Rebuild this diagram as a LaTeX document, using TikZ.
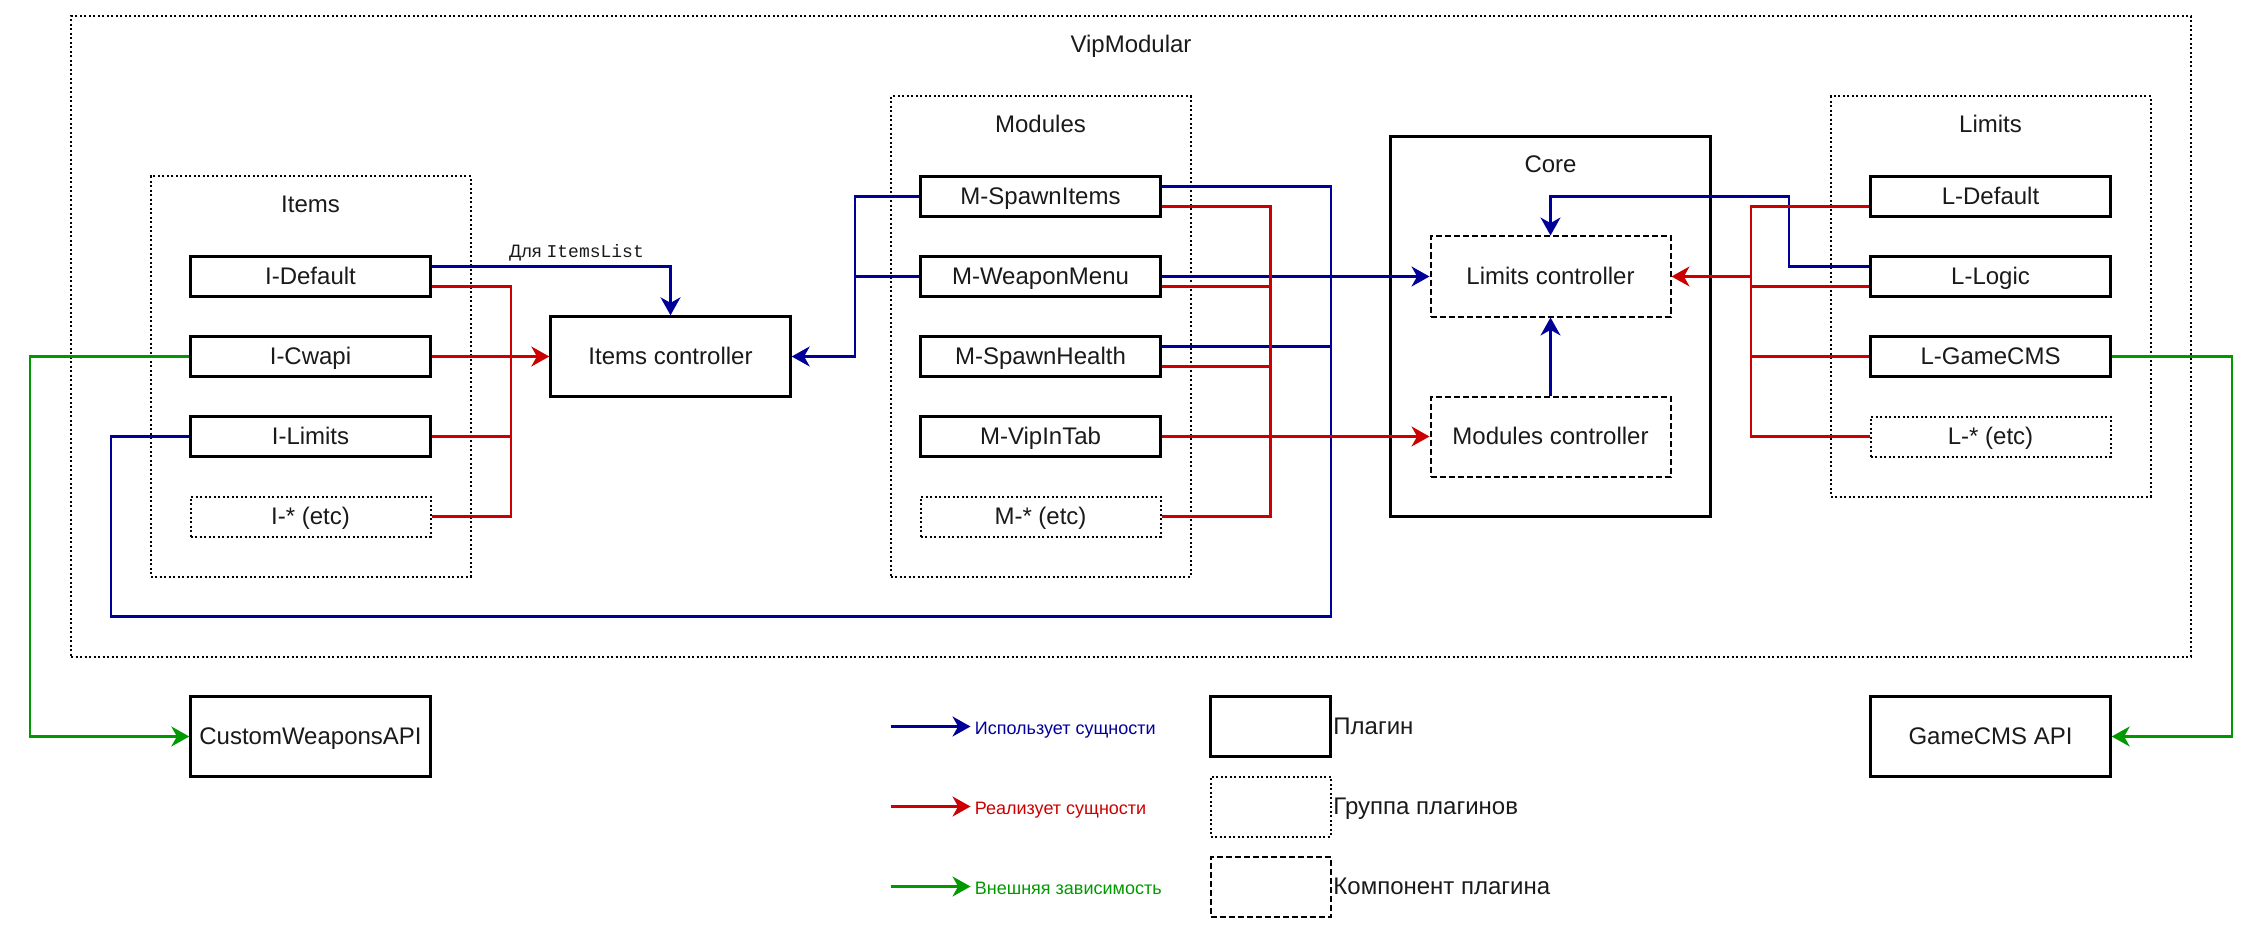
\documentclass[tikz,border=0pt]{standalone}
\usepackage{fontspec}
\setmainfont{Liberation Sans}
\newfontfamily\monofont{Liberation Mono}
\usetikzlibrary{arrows.meta}
\definecolor{cblue}{HTML}{000099}
\definecolor{cred}{HTML}{CC0000}
\definecolor{cgreen}{HTML}{009900}
\definecolor{ctext}{HTML}{1A1A1A}
\begin{document}
\begin{tikzpicture}[x=0.5pt,y=-0.5pt,
  font=\fontsize{12pt}{14pt}\selectfont,
  txt/.style={text height=0.905em, text depth=0.08em},
  plugin/.style={draw=black, line width=1.2pt, fill=white, minimum width=120pt, minimum height=20pt, inner sep=0pt, text=ctext, txt},
  bigplugin/.style={plugin, minimum height=40pt},
  etcbox/.style={plugin, line width=1pt, dash pattern=on 1pt off 1.25pt},
  comp/.style={draw=black, line width=1pt, dash pattern=on 3pt off 1.5pt, fill=white, minimum width=120pt, minimum height=40pt, inner sep=0pt, text=ctext, txt},
  grp/.style={draw=black, line width=1pt, dash pattern=on 1pt off 1.25pt, inner sep=0pt},
  grplabel/.style={inner sep=0pt, text=ctext, txt},
  conn/.style={line width=1.1pt},
  tip/.style={-{Stealth[length=9pt,width=10pt,inset=2.8pt]}},
  uses/.style={conn, draw=cblue},
  impl/.style={conn, draw=cred},
  ext/.style={conn, draw=cgreen},
  small/.style={font=\fontsize{9pt}{11pt}\selectfont, inner sep=0pt, txt},
  legtext/.style={anchor=west, inner sep=0pt, text=ctext, txt},
]
\useasboundingbox (0,0) rectangle (2264,936);

% groups
\node[grp, minimum width=1060pt, minimum height=320pt] (vip) at (1131,336.5) {};
\node[grplabel] (viplbl) at (1131,44) {VipModular};
\node[grp, minimum width=160pt, minimum height=200pt] (itemsgrp) at (310.5,376.5) {};
\node[grplabel] (itemslbl) at (310.5,204) {Items};
\node[grp, minimum width=150pt, minimum height=240pt] (modgrp) at (1040.5,336.5) {};
\node[grplabel] (modlbl) at (1040.5,124) {Modules};
\node[grp, minimum width=160pt, minimum height=200pt] (limgrp) at (1990.5,296.5) {};
\node[grplabel] (limlbl) at (1990.5,124) {Limits};
\node[draw=black, line width=1.2pt, inner sep=0pt, minimum width=160pt, minimum height=190pt] (core) at (1550.5,326.5) {};
\node[grplabel] (corelbl) at (1550.5,164) {Core};

% items
\node[plugin] (idef) at (310.5,276.5) {I-Default};
\node[plugin] (icwapi) at (310.5,356.5) {I-Cwapi};
\node[plugin] (ilim) at (310.5,436.5) {I-Limits};
\node[etcbox] (ietc) at (310.5,516.5) {I-* (etc)};
\node[bigplugin] (ictrl) at (670.5,356.5) {Items controller};

% modules
\node[plugin] (mspawn) at (1040.5,196.5) {M-SpawnItems};
\node[plugin] (mweap) at (1040.5,276.5) {M-WeaponMenu};
\node[plugin] (mhealth) at (1040.5,356.5) {M-SpawnHealth};
\node[plugin] (mvip) at (1040.5,436.5) {M-VipInTab};
\node[etcbox] (metc) at (1040.5,516.5) {M-* (etc)};

% core components
\node[comp] (limctrl) at (1550.5,276.5) {Limits controller};
\node[comp] (modctrl) at (1550.5,436.5) {Modules controller};

% limits
\node[plugin] (ldef) at (1990.5,196.5) {L-Default};
\node[plugin] (llogic) at (1990.5,276.5) {L-Logic};
\node[plugin] (lgame) at (1990.5,356.5) {L-GameCMS};
\node[etcbox] (letc) at (1990.5,436.5) {L-* (etc)};

% external
\node[bigplugin] (cwapi) at (310.5,736.5) {CustomWeaponsAPI};
\node[bigplugin] (gcms) at (1990.5,736.5) {GameCMS API};

% coordinates
\coordinate (bl1) at (1331,616.5);
\coordinate (bl2) at (111,616.5);
\coordinate (lt) at (1550.5,196.5);
\coordinate (ri) at (511,356.5);
\coordinate (rm) at (1270.5,436.5);
\coordinate (rl) at (1751,276.5);

% blue: uses
\draw[uses,tip] ([yshift=5pt]idef.east) -| (ictrl.north);
\node[small, text=ctext] (forlbl) at (576.5,249) {Для {\monofont ItemsList}};
\draw[uses,tip] (mspawn.west) -- ++(-64.5,0) |- (ictrl.east);
\draw[uses] (mweap.west) -- ++(-64.5,0);
\draw[uses,tip] (mweap.east) -- (limctrl.west);
\draw[uses] ([yshift=5pt]mspawn.east) -| (bl1) -- (bl2) |- (ilim.west);
\draw[uses] ([yshift=5pt]mhealth.east) -- ([yshift=5pt]mhealth.east -| bl1);
\draw[uses,tip] ([yshift=5pt]llogic.west) -- ++(-80,0) |- (lt) -- (limctrl.north);
\draw[uses,tip] (modctrl.north) -- (limctrl.south);

% red: implements
\draw[impl] ([yshift=-5pt]idef.east) -| (ri);
\draw[impl,tip] (icwapi.east) -- (ictrl.west);
\draw[impl] (ilim.east) -| (ri);
\draw[impl] (ietc.east) -| (ri);
\draw[impl] ([yshift=-5pt]mspawn.east) -| (rm);
\draw[impl] ([yshift=-5pt]mweap.east) -| (rm);
\draw[impl] ([yshift=-5pt]mhealth.east) -| (rm);
\draw[impl] (metc.east) -| (rm);
\draw[impl,tip] (mvip.east) -- (modctrl.west);
\draw[impl] ([yshift=-5pt]ldef.west) -| (rl);
\draw[impl] ([yshift=-5pt]llogic.west) -| (rl);
\draw[impl] (lgame.west) -| (rl);
\draw[impl] (letc.west) -| (rl);
\draw[impl,tip] (rl) -- (limctrl.east);

% green: external
\draw[ext,tip] (icwapi.west) -- ++(-159.5,0) |- (cwapi.west);
\draw[ext,tip] (lgame.east) -- ++(120.5,0) |- (gcms.east);

% legend
\coordinate (lg1) at (890.5,726.5);
\coordinate (lg2) at (890.5,806.5);
\coordinate (lg3) at (890.5,886.5);
\node[small, anchor=west, text=cblue] (lt1) at (974.5,726.5) {Использует сущности};
\node[small, anchor=west, text=cred] (lt2) at (974.5,806.5) {Реализует сущности};
\node[small, anchor=west, text=cgreen] (lt3) at (974.5,886.5) {Внешняя зависимость};
\draw[uses,tip] (lg1) -- ([xshift=-2pt]lt1.west);
\draw[impl,tip] (lg2) -- ([xshift=-2pt]lt2.west);
\draw[ext,tip] (lg3) -- ([xshift=-2pt]lt3.west);

\node[plugin, minimum width=60pt, minimum height=30pt] (lb1) at (1270.5,726.5) {};
\node[grp, fill=white, minimum width=60pt, minimum height=30pt] (lb2) at (1270.5,806.5) {};
\node[comp, minimum width=60pt, minimum height=30pt] (lb3) at (1270.5,886.5) {};
\node[legtext] (lbt1) at (1333,726.5) {Плагин};
\node[legtext] (lbt2) at (1333,806.5) {Группа плагинов};
\node[legtext] (lbt3) at (1333,886.5) {Компонент плагина};
\end{tikzpicture}
\end{document}
